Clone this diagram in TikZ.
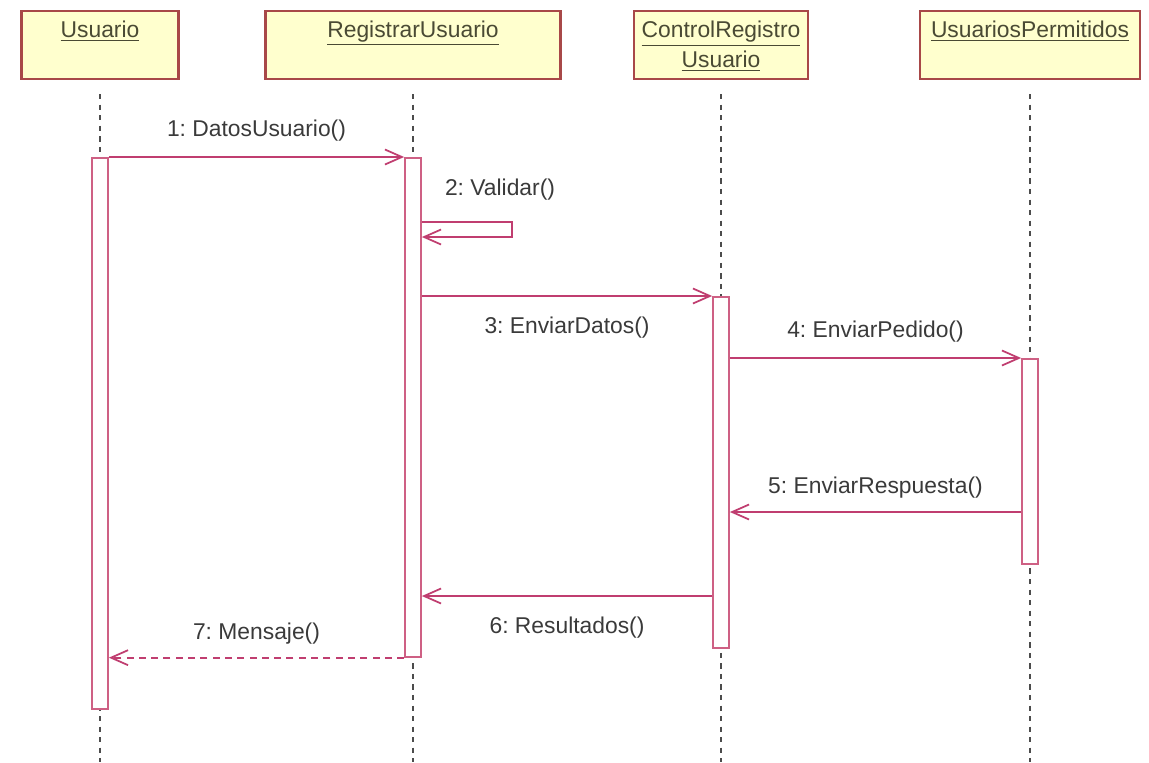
\documentclass[tikz,border=0pt]{standalone}
\usepackage{fontspec}
\setmainfont{Liberation Sans}
\frenchspacing
\usetikzlibrary{arrows.meta}
\definecolor{msgline}{RGB}{192,62,112}
\definecolor{actline}{RGB}{206,96,132}
\definecolor{headfill}{RGB}{255,255,206}
\definecolor{headline}{RGB}{168,72,72}
\definecolor{headtext}{RGB}{74,74,52}
\definecolor{msgtext}{RGB}{58,58,58}
\tikzset{
  obj/.style={draw=headline, fill=headfill, line width=1.2pt, anchor=north, align=center,
    font=\fontsize{13}{17}\selectfont, text=headtext, inner sep=0.15cm,
    text height=0.38cm, text depth=0.68cm, minimum width=#1},
  life/.style={draw=gray!60!black, line width=1pt, dash pattern=on 3pt off 3pt},
  act/.style={draw=actline, fill=white, line width=1pt, anchor=north, minimum width=0.32cm, inner sep=0pt},
  msg/.style={draw=msgline, line width=1pt, -{Straight Barb[length=0.34cm,width=0.3cm]}},
  ret/.style={msg, dash pattern=on 4pt off 3pt},
  lbl/.style={font=\fontsize{13}{15}\selectfont, text=msgtext}
}
\begin{document}
\begin{tikzpicture}[x=0.02cm, y=-0.02cm]
\useasboundingbox (0,0) rectangle (1149,762);
\coordinate (m2) at (0,222);
\coordinate (m2b) at (0,237);
\coordinate (m5) at (0,512);
\coordinate (m6) at (0,596);
\coordinate (bot) at (0,762);
\node [obj=3.14cm] (usr) at (100,10) {\underline{Usuario}};
\node [obj=5.9cm] (reg) at (413,10) {\underline{RegistrarUsuario}};
\node [obj=3.32cm, text height=0.98cm, text depth=0.08cm] (ctl) at (721,10) {\underline{ControlRegistro}\\\underline{Usuario}};
\node [obj=4.4cm] (per) at (1030,10) {\underline{UsuariosPermitidos}};
\draw [life] ([yshift=-0.28cm]usr.south) -- (usr |- bot);
\draw [life] ([yshift=-0.28cm]reg.south) -- (reg |- bot);
\draw [life] ([yshift=-0.28cm]ctl.south) -- (ctl |- bot);
\draw [life] ([yshift=-0.28cm]per.south) -- (per |- bot);
\node [act, minimum height=11.02cm] (usract) at (100,157) {};
\node [act, minimum height=9.98cm] (regact) at (413,157) {};
\node [act, minimum height=7.02cm] (ctlact) at (721,296) {};
\node [act, minimum height=4.1cm] (peract) at (1030,358) {};
\draw [msg] (usract.north east) -- node [lbl, above=5pt] (t1) {1: DatosUsuario()} (regact.north west);
\draw [msg] (regact.east |- m2) -- ++(90,0) -- ++(0,15) -- (regact.east |- m2b);
\node [lbl] (t2) at (500,190) {2: Validar()};
\draw [msg] (regact.east |- ctlact.north) -- node [lbl, below=8pt] (t3) {3: EnviarDatos()} (ctlact.north west);
\draw [msg] (ctlact.east |- peract.north) -- node [lbl, above=5pt] (t4) {4: EnviarPedido()} (peract.north west);
\draw [msg] (peract.west |- m5) -- node [lbl, above=4pt] (t5) {5: EnviarRespuesta()} (ctlact.east |- m5);
\draw [msg] (ctlact.west |- m6) -- node [lbl, below=8pt] (t6) {6: Resultados()} (regact.east |- m6);
\draw [ret] (regact.south west) -- node [lbl, above=4pt] (t7) {7: Mensaje()} (usract.east |- regact.south);
\end{tikzpicture}
\end{document}
